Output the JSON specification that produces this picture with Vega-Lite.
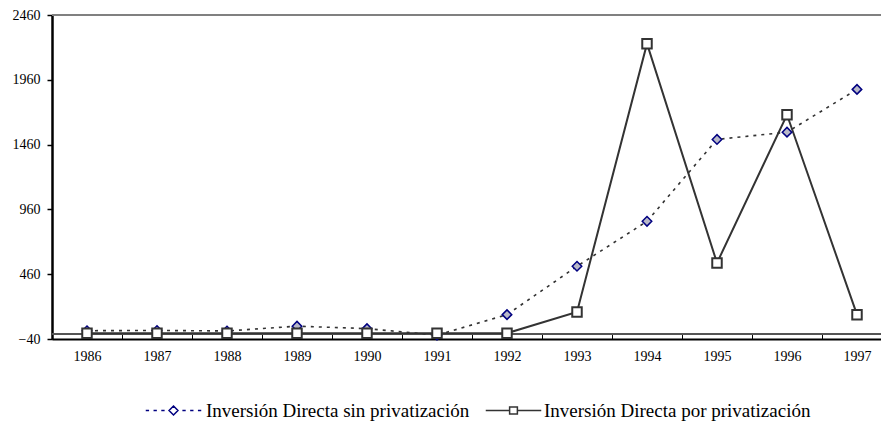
{
  "$schema": "https://vega.github.io/schema/vega-lite/v6.json",
  "autosize": {"type": "none"},
  "padding": {"left": 52, "top": 15, "right": 0, "bottom": 82},
  "width": 829,
  "height": 324,
  "background": "white",
  "config": {
    "view": {"stroke": null},
    "font": "Liberation Serif",
    "axis": {"labelFont": "Liberation Serif", "labelColor": "#000", "titleFont": "Liberation Serif"},
    "legend": {"labelFont": "Liberation Serif"}
  },
  "data": {
    "values": [
      {"year": "1986", "serie": "Inversión Directa sin privatización", "value": 24},
      {"year": "1987", "serie": "Inversión Directa sin privatización", "value": 26},
      {"year": "1988", "serie": "Inversión Directa sin privatización", "value": 22},
      {"year": "1989", "serie": "Inversión Directa sin privatización", "value": 59},
      {"year": "1990", "serie": "Inversión Directa sin privatización", "value": 40},
      {"year": "1991", "serie": "Inversión Directa sin privatización", "value": -10},
      {"year": "1992", "serie": "Inversión Directa sin privatización", "value": 148},
      {"year": "1993", "serie": "Inversión Directa sin privatización", "value": 521},
      {"year": "1994", "serie": "Inversión Directa sin privatización", "value": 868},
      {"year": "1995", "serie": "Inversión Directa sin privatización", "value": 1500},
      {"year": "1996", "serie": "Inversión Directa sin privatización", "value": 1556},
      {"year": "1997", "serie": "Inversión Directa sin privatización", "value": 1886},
      {"year": "1986", "serie": "Inversión Directa por privatización", "value": 4},
      {"year": "1987", "serie": "Inversión Directa por privatización", "value": 4},
      {"year": "1988", "serie": "Inversión Directa por privatización", "value": 4},
      {"year": "1989", "serie": "Inversión Directa por privatización", "value": 4},
      {"year": "1990", "serie": "Inversión Directa por privatización", "value": 4},
      {"year": "1991", "serie": "Inversión Directa por privatización", "value": 4},
      {"year": "1992", "serie": "Inversión Directa por privatización", "value": 5},
      {"year": "1993", "serie": "Inversión Directa por privatización", "value": 169},
      {"year": "1994", "serie": "Inversión Directa por privatización", "value": 2239},
      {"year": "1995", "serie": "Inversión Directa por privatización", "value": 547},
      {"year": "1996", "serie": "Inversión Directa por privatización", "value": 1690},
      {"year": "1997", "serie": "Inversión Directa por privatización", "value": 148}
    ]
  },
  "encoding": {
    "x": {
      "field": "year", "type": "ordinal",
      "scale": {"type": "band", "range": [0, 840], "paddingInner": 0, "paddingOuter": 0},
      "axis": {
        "title": null, "labelAngle": 0, "labelFontSize": 14, "labelPadding": 15,
        "tickBand": "extent", "tickSize": -5, "tickColor": "#000", "tickWidth": 1,
        "domainColor": "#000", "domainWidth": 2, "grid": false
      }
    },
    "y": {
      "field": "value", "type": "quantitative",
      "scale": {"domain": [-40, 2460], "nice": false, "zero": false},
      "axis": {
        "title": null, "values": [-40, 460, 960, 1460, 1960, 2460], "format": "d", "grid": false,
        "labelFontSize": 14, "labelPadding": 7, "tickSize": 5, "tickColor": "#000", "tickWidth": 1.5,
        "domainColor": "#000", "domainWidth": 2.5
      }
    }
  },
  "resolve": {"scale": {"shape": "independent"}},
  "layer": [
    {
      "mark": {"type": "rule", "color": "#808080", "strokeWidth": 2},
      "encoding": {"y": {"datum": 2460}, "x": null}
    },
    {
      "mark": {"type": "rule", "color": "#555", "strokeWidth": 1.5},
      "encoding": {"y": {"datum": 0}, "x": null}
    },
    {
      "transform": [{"filter": "datum.serie == 'Inversión Directa sin privatización'"}],
      "mark": {"type": "line", "color": "#333", "strokeWidth": 1.6, "strokeDash": [3, 5]}
    },
    {
      "transform": [{"filter": "datum.serie == 'Inversión Directa por privatización'"}],
      "mark": {"type": "line", "color": "#333", "strokeWidth": 2}
    },
    {
      "mark": {"type": "point", "filled": false, "opacity": 1, "size": 90},
      "encoding": {
        "shape": {
          "field": "serie", "type": "nominal", "legend": null,
          "scale": {"domain": ["Inversión Directa sin privatización", "Inversión Directa por privatización"], "range": ["diamond", "square"]}
        },
        "fill": {
          "field": "serie", "type": "nominal", "legend": null,
          "scale": {"domain": ["Inversión Directa sin privatización", "Inversión Directa por privatización"], "range": ["#b8b8c8", "#ffffff"]}
        },
        "stroke": {
          "field": "serie", "type": "nominal", "legend": null,
          "scale": {"domain": ["Inversión Directa sin privatización", "Inversión Directa por privatización"], "range": ["#000080", "#333333"]}
        },
        "strokeWidth": {
          "field": "serie", "type": "nominal", "legend": null,
          "scale": {"domain": ["Inversión Directa sin privatización", "Inversión Directa por privatización"], "range": [1.5, 2]}
        },
        "order": {"field": "serie", "sort": "descending"}
      }
    },
    {
      "transform": [{"filter": "datum.serie == 'Inversión Directa sin privatización'"}],
      "mark": {"type": "point", "filled": false, "opacity": 1, "size": 0, "color": "#000080"},
      "encoding": {
        "shape": {
          "field": "serie", "type": "nominal",
          "scale": {
            "domain": ["Inversión Directa sin privatización"],
            "range": ["M-1,0H-0.88M-0.72,0H-0.6M-0.44,0H-0.32M0.32,0H0.44M0.6,0H0.72M0.88,0H1M0,-0.16L0.16,0L0,0.16L-0.16,0Z"]
          },
          "legend": {
            "title": null, "orient": "none", "legendX": 93, "legendY": 367,
            "symbolSize": 3080, "labelFontSize": 19, "labelFont": "Liberation Serif", "labelColor": "#000",
            "labelOffset": 4, "labelLimit": 0,
            "symbolOpacity": 1, "symbolStrokeWidth": 1.5, "symbolFillColor": "#b8b8c8",
            "encode": {"symbols": {"update": {"fill": {"value": "#b8b8c8"}}}}
          }
        }
      }
    },
    {
      "transform": [{"filter": "datum.serie == 'Inversión Directa por privatización'"}],
      "mark": {"type": "point", "filled": false, "opacity": 1, "size": 0, "color": "#333333"},
      "encoding": {
        "shape": {
          "field": "serie", "type": "nominal",
          "scale": {
            "domain": ["Inversión Directa por privatización"],
            "range": ["M-1,0H-0.14M0.14,0H1M-0.14,-0.13H0.14V0.13H-0.14Z"]
          },
          "legend": {
            "title": null, "orient": "none", "legendX": 433, "legendY": 367,
            "symbolSize": 3080, "labelFontSize": 19, "labelFont": "Liberation Serif", "labelColor": "#000",
            "labelOffset": 2, "labelLimit": 0,
            "symbolOpacity": 1, "symbolStrokeWidth": 1.5
          }
        }
      }
    }
  ]
}
